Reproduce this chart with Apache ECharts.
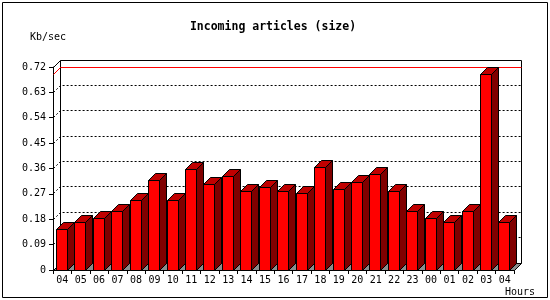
<!DOCTYPE html>
<html>
<head>
<meta charset="utf-8">
<script src="https://cdn.jsdelivr.net/npm/echarts@6/dist/echarts.min.js"></script>
<style>html,body{margin:0;padding:0;background:#fff}#c{width:550px;height:300px}</style>
</head>
<body>
<div id="c"></div>
<script>
const hours = ['04','05','06','07','08','09','10','11','12','13','14','15','16','17','18','19','20','21','22','23','00','01','02','03','04'];
const rates = [0.142,0.167,0.181,0.206,0.245,0.316,0.248,0.355,0.305,0.333,0.280,0.294,0.280,0.273,0.362,0.284,0.309,0.340,0.277,0.209,0.184,0.170,0.209,0.692,0.167];
const yTicks = [0,0.09,0.18,0.27,0.36,0.45,0.54,0.63,0.72];
const titleText = 'Incoming articles (size)';
const yName = 'Kb/sec';
const xName = 'Hours';

const maxRate = Math.max.apply(null, rates);
const D = 7;
const mono = 'DejaVu Sans Mono';
function cr(v){ return Math.round(v - 0.5) + 0.5; }

const chart = echarts.init(document.getElementById('c'), null, {renderer:'canvas'});

function renderFrame(params, api){
  const cs = params.coordSys;
  const L = cr(cs.x), R = cr(cs.x + cs.width), B = cr(cs.y + cs.height), T = cr(cs.y);
  const ch = [];
  // floor
  ch.push({type:'polygon', shape:{points:[[L,B],[R,B],[R+D,B-D],[L+D,B-D]]},
    style:{fill:'#8c8c8c', stroke:'#000', lineWidth:1}});
  // back wall frame
  ch.push({type:'polyline', shape:{points:[[L+D,B-D],[L+D,T-D],[R+D,T-D],[R+D,B-D]]},
    style:{fill:null, stroke:'#000', lineWidth:1}});
  ch.push({type:'polyline', shape:{points:[[L,T],[L+D,T-D]]},
    style:{fill:null, stroke:'#000', lineWidth:1}});
  // dotted grid lines
  yTicks.forEach(function(v){
    if (v <= 0 || v >= yTicks[yTicks.length-1]) return;
    const y = cr(api.coord([0, v])[1]);
    ch.push({type:'polyline', shape:{points:[[L,y],[L+D,y-D],[R+D,y-D]]},
      style:{fill:null, stroke:'#000', lineWidth:1, lineDash:[2,2]}});
  });
  // max line
  const ym = cr(api.coord([0, maxRate])[1]);
  ch.push({type:'polyline', shape:{points:[[L,ym],[L+D,ym-D],[R+D,ym-D]]},
    style:{fill:null, stroke:'#ff0000', lineWidth:1}});
  return {type:'group', children:ch};
}

function renderBar(params, api){
  const i = api.value(0), v = api.value(1);
  const top = api.coord([i, v]);
  const base = api.coord([i, 0]);
  const w = 11;
  const x0 = cr(top[0] - w/2 - 0.3), x1 = x0 + w;
  const yt = cr(top[1]), yb = cr(base[1]);
  const st = {stroke:'#000', lineWidth:1};
  return {type:'group', children:[
    {type:'polygon', shape:{points:[[x0,yb],[x1,yb],[x1,yt],[x0,yt]]}, style:Object.assign({fill:'#ff0000'}, st)},
    {type:'polygon', shape:{points:[[x1,yb],[x1+D,yb-D],[x1+D,yt-D],[x1,yt]]}, style:Object.assign({fill:'#800000'}, st)},
    {type:'polygon', shape:{points:[[x0,yt],[x1,yt],[x1+D,yt-D],[x0+D,yt-D]]}, style:Object.assign({fill:'#c00000'}, st)}
  ]};
}

chart.setOption({
  animation:false,
  backgroundColor:'#ffffff',
  grid:{left:53, right:36, top:67, bottom:30, containLabel:false},
  xAxis:{
    type:'category', data:hours, boundaryGap:true,
    axisLine:{show:true, lineStyle:{color:'#000', width:1}},
    axisTick:{show:true, length:4, interval:0, lineStyle:{color:'#000'}},
    axisLabel:{interval:0, margin:5, color:'#000', fontFamily:mono, fontSize:10},
    splitLine:{show:false}
  },
  yAxis:{
    type:'value', min:0, max:0.72, interval:0.09,
    axisLine:{show:true, lineStyle:{color:'#000', width:1}},
    axisTick:{show:true, length:4, lineStyle:{color:'#000'}},
    axisLabel:{margin:7, color:'#000', fontFamily:mono, fontSize:10,
      formatter:function(v){ return v === 0 ? '0' : v.toFixed(2); }},
    splitLine:{show:false}
  },
  series:[
    {type:'custom', z:1, renderItem:renderFrame, data:[[0,0]], silent:true, clip:false},
    {type:'custom', z:3, renderItem:renderBar, data:rates.map(function(r,i){return [i,r];}), silent:true, clip:false}
  ],
  graphic:[
    {type:'rect', shape:{x:2.5, y:2.5, width:545, height:295}, style:{fill:null, stroke:'#000', lineWidth:1}, z:100},
    {type:'text', x:273, y:27, style:{text:titleText, fontFamily:mono, fontWeight:'bold', fontSize:11.5, fill:'#000', textAlign:'center', textVerticalAlign:'middle'}},
    {type:'text', x:30, y:37, style:{text:yName, fontFamily:mono, fontSize:10, fill:'#000', textAlign:'left', textVerticalAlign:'middle'}},
    {type:'text', x:535, y:292, style:{text:xName, fontFamily:mono, fontSize:10, fill:'#000', textAlign:'right', textVerticalAlign:'middle'}}
  ]
});
</script>
</body>
</html>
